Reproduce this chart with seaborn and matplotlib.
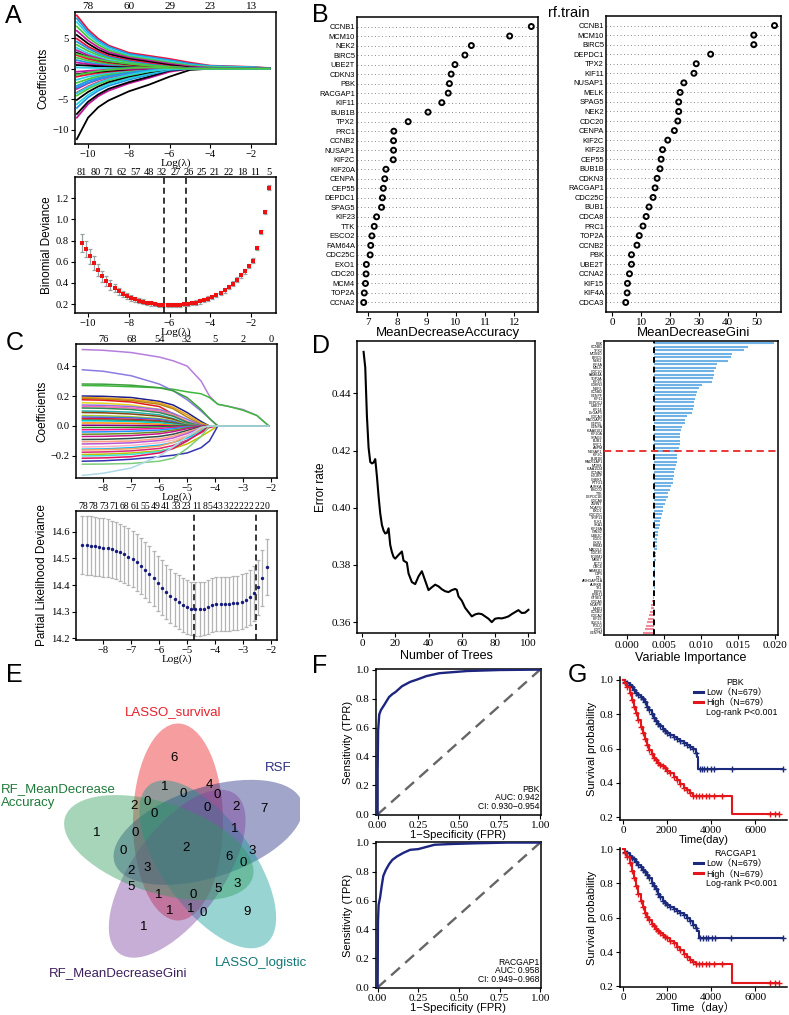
import numpy as np
import pandas as pd
import matplotlib
matplotlib.use("Agg")
import matplotlib.pyplot as plt
import seaborn as sns
from matplotlib.patches import Ellipse
from matplotlib.lines import Line2D

SANS = "Liberation Sans"
SERIF = "Liberation Serif"
plt.rcParams["font.family"] = [SANS, "DejaVu Sans"]

# ======================= DATA =======================
# ---- Panel A (LASSO logistic) coefficient paths ----
a_knots = [-10.55, -10.0, -9.5, -9.0, -8.0, -7.0, -6.0, -5.0, -4.0, -2.0, -1.1]
a_coef = [
    [8.7, 6.4, 4.9, 3.8, 2.6, 2.1, 1.6, 1.0, 0.5, 0.3, 0.1],
    [8.2, 6.0, 4.6, 3.6, 2.4, 1.9, 1.4, 0.8, 0.45, 0.25, 0.08],
    [7.6, 5.6, 4.3, 3.3, 2.2, 1.7, 1.2, 0.6, 0.35, 0.2, 0.05],
    [6.9, 5.1, 3.9, 3.0, 2.0, 1.5, 1.0, 0.5, 0.25, 0.1, 0.02],
    [6.2, 4.6, 3.5, 2.7, 1.8, 1.3, 0.8, 0.35, 0.15, 0.05, 0.0],
    [5.5, 4.1, 3.1, 2.4, 1.6, 1.1, 0.6, 0.2, 0.05, 0.0, 0.0],
    [4.9, 3.6, 2.8, 2.1, 1.4, 0.9, 0.4, 0.1, 0.0, 0.0, 0.0],
    [4.4, 3.3, 2.5, 1.9, 1.2, 0.7, 0.3, 0.05, 0.0, 0.0, 0.0],
    [3.9, 2.9, 2.2, 1.7, 1.0, 0.55, 0.15, 0.0, 0.0, 0.0, 0.0],
    [3.4, 2.5, 1.9, 1.4, 0.85, 0.4, 0.1, 0.0, 0.0, 0.0, 0.0],
    [3.0, 2.2, 1.7, 1.2, 0.7, 0.3, 0.05, 0.0, 0.0, 0.0, 0.0],
    [2.6, 1.9, 1.4, 1.0, 0.55, 0.2, 0.0, 0.0, 0.0, 0.0, 0.0],
    [2.2, 1.6, 1.2, 0.85, 0.45, 0.15, 0.0, 0.0, 0.0, 0.0, 0.0],
    [1.8, 1.3, 1.0, 0.7, 0.35, 0.1, 0.0, 0.0, 0.0, 0.0, 0.0],
    [1.4, 1.0, 0.75, 0.55, 0.25, 0.05, 0.0, 0.0, 0.0, 0.0, 0.0],
    [1.0, 0.75, 0.55, 0.4, 0.2, 0.05, 0.0, 0.0, 0.0, 0.0, 0.0],
    [0.6, 0.5, 0.4, 0.3, 0.2, 0.1, 0.05, 0.0, 0.0, 0.0, 0.0],
    [0.2, 0.15, 0.12, 0.1, 0.05, 0.0, 0.0, 0.0, 0.0, 0.0, 0.0],
    [2.4, 1.9, 1.5, 1.2, 0.8, 0.5, 0.3, 0.1, 0.0, 0.0, 0.0],
    [-11.5, -8.0, -6.3, -5.2, -3.7, -2.6, -1.3, -0.2, 0.0, 0.0, 0.0],
    [-8.0, -5.8, -4.5, -3.6, -2.4, -1.5, -0.5, 0.0, 0.0, 0.0, 0.0],
    [-7.4, -5.4, -4.2, -3.3, -2.2, -1.3, -0.3, 0.0, 0.0, 0.0, 0.0],
    [-6.4, -4.7, -3.6, -2.8, -1.8, -1.0, -0.2, 0.0, 0.0, 0.0, 0.0],
    [-5.8, -4.3, -3.3, -2.5, -1.6, -0.8, -0.1, 0.0, 0.0, 0.0, 0.0],
    [-5.1, -3.8, -2.9, -2.2, -1.3, -0.6, 0.0, 0.0, 0.0, 0.0, 0.0],
    [-4.4, -3.3, -2.5, -1.9, -1.1, -0.45, 0.0, 0.0, 0.0, 0.0, 0.0],
    [-3.9, -2.9, -2.2, -1.6, -0.9, -0.3, 0.0, 0.0, 0.0, 0.0, 0.0],
    [-3.3, -2.4, -1.8, -1.3, -0.7, -0.2, 0.0, 0.0, 0.0, 0.0, 0.0],
    [-2.8, -2.0, -1.5, -1.1, -0.55, -0.15, 0.0, 0.0, 0.0, 0.0, 0.0],
    [-2.3, -1.7, -1.2, -0.9, -0.4, -0.1, 0.0, 0.0, 0.0, 0.0, 0.0],
    [-1.8, -1.3, -1.0, -0.7, -0.3, -0.05, 0.0, 0.0, 0.0, 0.0, 0.0],
    [-1.3, -0.95, -0.7, -0.5, -0.2, 0.0, 0.0, 0.0, 0.0, 0.0, 0.0],
    [-0.9, -0.65, -0.5, -0.35, -0.1, 0.0, 0.0, 0.0, 0.0, 0.0, 0.0],
    [-0.5, -0.35, -0.25, -0.15, -0.05, 0.0, 0.0, 0.0, 0.0, 0.0, 0.0],
    [-3.1, -2.3, -1.7, -1.3, -0.7, -0.25, 0.0, 0.0, 0.0, 0.0, 0.0],
    [-4.0, -3.0, -2.3, -1.7, -1.0, -0.4, -0.05, 0.0, 0.0, 0.0, 0.0],
    [-1.0, -0.7, -0.4, -0.2, 0.1, 0.2, 0.1, 0.0, 0.0, 0.0, 0.0],
]
a_col = ["red", "blue", "cyan", "green", "magenta", "black", "red", "blue", "green", "cyan",
         "magenta", "black", "red", "green", "blue", "magenta", "black", "cyan", "green",
         "black", "magenta", "black", "blue", "cyan", "black", "green", "red", "magenta",
         "blue", "green", "cyan", "red", "black", "magenta", "blue", "cyan", "green"]
a_top_ticks = [-10, -8, -6, -4, -2]
a_top_labels = ["78", "60", "29", "23", "13"]

# ---- Panel A binomial deviance ----
a_dev_x = [-10.3, -10.1, -9.9, -9.7, -9.5, -9.3, -9.1, -8.9, -8.7, -8.5, -8.3, -8.1, -7.9, -7.7,
           -7.5, -7.3, -7.1, -6.9, -6.7, -6.5, -6.3, -6.1, -5.9, -5.7, -5.5, -5.3, -5.1, -4.9,
           -4.7, -4.5, -4.3, -4.1, -3.9, -3.7, -3.5, -3.3, -3.1, -2.9, -2.7, -2.5, -2.3, -2.1,
           -1.9, -1.7, -1.5, -1.3, -1.1]
a_dev_y = [0.78, 0.72, 0.65, 0.59, 0.52, 0.46, 0.42, 0.38, 0.35, 0.32, 0.295, 0.275, 0.257, 0.243,
           0.231, 0.221, 0.212, 0.205, 0.199, 0.195, 0.192, 0.19, 0.19, 0.191, 0.193, 0.196, 0.2,
           0.206, 0.214, 0.224, 0.237, 0.252, 0.268, 0.285, 0.305, 0.33, 0.36, 0.39, 0.43, 0.47,
           0.51, 0.56, 0.61, 0.73, 0.88, 1.07, 1.30]
a_dev_se = [0.085, 0.078, 0.07, 0.064, 0.058, 0.052, 0.047, 0.043, 0.039, 0.035, 0.032, 0.029,
            0.027, 0.025, 0.023, 0.022, 0.021, 0.02, 0.02, 0.019, 0.019, 0.019, 0.019, 0.019,
            0.019, 0.019, 0.019, 0.019, 0.02, 0.02, 0.02, 0.021, 0.021, 0.022, 0.022, 0.022,
            0.022, 0.023, 0.023, 0.023, 0.023, 0.022, 0.022, 0.021, 0.02, 0.02, 0.02]
a_dev_top = ["81", "80", "71", "62", "57", "48", "32", "27", "26", "25", "21", "22", "18", "11", "5"]
a_dev_vlines = [-6.25, -5.2]

# ---- Panel C (LASSO Cox) coefficient paths ----
c_knots = [-8.75, -8.0, -7.0, -6.0, -5.5, -5.0, -4.5, -4.2, -3.9, -3.5, -3.0, -2.5, -2.07]
c_coef = [
    [0.51, 0.505, 0.49, 0.46, 0.435, 0.40, 0.30, 0.20, 0.145, 0.13, 0.11, 0.07, 0.0],
    [0.27, 0.268, 0.262, 0.255, 0.245, 0.228, 0.215, 0.19, 0.145, 0.13, 0.105, 0.07, 0.0],
    [0.375, 0.365, 0.335, 0.28, 0.235, 0.175, 0.10, 0.05, 0.0, 0.0, 0.0, 0.0, 0.0],
    [0.28, 0.279, 0.272, 0.255, 0.235, 0.19, 0.11, 0.05, 0.0, 0.0, 0.0, 0.0, 0.0],
    [0.20, 0.198, 0.19, 0.165, 0.14, 0.09, 0.03, 0.0, 0.0, 0.0, 0.0, 0.0, 0.0],
    [0.19, 0.187, 0.178, 0.155, 0.125, 0.075, 0.02, 0.0, 0.0, 0.0, 0.0, 0.0, 0.0],
    [0.185, 0.18, 0.17, 0.145, 0.115, 0.06, 0.01, 0.0, 0.0, 0.0, 0.0, 0.0, 0.0],
    [0.175, 0.172, 0.16, 0.13, 0.08, 0.02, 0.0, 0.0, 0.0, 0.0, 0.0, 0.0, 0.0],
    [0.155, 0.152, 0.14, 0.11, 0.075, 0.03, 0.0, 0.0, 0.0, 0.0, 0.0, 0.0, 0.0],
    [0.14, 0.138, 0.13, 0.11, 0.085, 0.045, 0.005, 0.0, 0.0, 0.0, 0.0, 0.0, 0.0],
    [0.13, 0.128, 0.12, 0.10, 0.07, 0.03, 0.0, 0.0, 0.0, 0.0, 0.0, 0.0, 0.0],
    [0.12, 0.118, 0.11, 0.09, 0.065, 0.025, 0.0, 0.0, 0.0, 0.0, 0.0, 0.0, 0.0],
    [0.10, 0.098, 0.092, 0.075, 0.05, 0.015, 0.0, 0.0, 0.0, 0.0, 0.0, 0.0, 0.0],
    [0.09, 0.088, 0.08, 0.065, 0.045, 0.01, 0.0, 0.0, 0.0, 0.0, 0.0, 0.0, 0.0],
    [0.07, 0.068, 0.062, 0.05, 0.035, 0.01, 0.0, 0.0, 0.0, 0.0, 0.0, 0.0, 0.0],
    [0.06, 0.058, 0.055, 0.045, 0.03, 0.005, 0.0, 0.0, 0.0, 0.0, 0.0, 0.0, 0.0],
    [0.05, 0.049, 0.045, 0.035, 0.02, 0.0, 0.0, 0.0, 0.0, 0.0, 0.0, 0.0, 0.0],
    [0.04, 0.04, 0.038, 0.03, 0.02, 0.005, 0.0, 0.0, 0.0, 0.0, 0.0, 0.0, 0.0],
    [0.035, 0.034, 0.03, 0.022, 0.012, 0.0, 0.0, 0.0, 0.0, 0.0, 0.0, 0.0, 0.0],
    [0.02, 0.02, 0.018, 0.012, 0.005, 0.0, 0.0, 0.0, 0.0, 0.0, 0.0, 0.0, 0.0],
    [0.005, 0.005, 0.004, 0.002, 0.0, 0.0, 0.0, 0.0, 0.0, 0.0, 0.0, 0.0, 0.0],
    [-0.01, -0.01, -0.009, -0.006, -0.003, 0.0, 0.0, 0.0, 0.0, 0.0, 0.0, 0.0, 0.0],
    [-0.025, -0.025, -0.022, -0.016, -0.01, -0.003, 0.0, 0.0, 0.0, 0.0, 0.0, 0.0, 0.0],
    [-0.04, -0.039, -0.035, -0.027, -0.018, -0.006, 0.0, 0.0, 0.0, 0.0, 0.0, 0.0, 0.0],
    [-0.055, -0.054, -0.05, -0.04, -0.028, -0.012, 0.0, 0.0, 0.0, 0.0, 0.0, 0.0, 0.0],
    [-0.07, -0.069, -0.064, -0.052, -0.038, -0.018, 0.0, 0.0, 0.0, 0.0, 0.0, 0.0, 0.0],
    [-0.09, -0.089, -0.083, -0.07, -0.055, -0.03, -0.005, 0.0, 0.0, 0.0, 0.0, 0.0, 0.0],
    [-0.105, -0.104, -0.10, -0.085, -0.068, -0.04, -0.01, 0.0, 0.0, 0.0, 0.0, 0.0, 0.0],
    [-0.12, -0.118, -0.112, -0.097, -0.08, -0.05, -0.015, 0.0, 0.0, 0.0, 0.0, 0.0, 0.0],
    [-0.14, -0.138, -0.13, -0.112, -0.095, -0.065, -0.025, 0.0, 0.0, 0.0, 0.0, 0.0, 0.0],
    [-0.155, -0.153, -0.145, -0.128, -0.11, -0.08, -0.035, 0.0, 0.0, 0.0, 0.0, 0.0, 0.0],
    [-0.16, -0.158, -0.152, -0.135, -0.11, -0.07, -0.02, 0.0, 0.0, 0.0, 0.0, 0.0, 0.0],
    [-0.175, -0.173, -0.166, -0.15, -0.13, -0.095, -0.045, -0.01, 0.0, 0.0, 0.0, 0.0, 0.0],
    [-0.19, -0.188, -0.18, -0.165, -0.15, -0.12, -0.07, -0.035, 0.0, 0.0, 0.0, 0.0, 0.0],
    [-0.20, -0.198, -0.19, -0.17, -0.145, -0.10, -0.03, 0.0, 0.0, 0.0, 0.0, 0.0, 0.0],
    [-0.215, -0.213, -0.205, -0.18, -0.15, -0.10, -0.04, 0.0, 0.0, 0.0, 0.0, 0.0, 0.0],
    [-0.235, -0.232, -0.222, -0.205, -0.195, -0.18, -0.145, -0.10, 0.0, 0.0, 0.0, 0.0, 0.0],
    [-0.255, -0.254, -0.25, -0.235, -0.215, -0.15, -0.07, 0.0, 0.0, 0.0, 0.0, 0.0, 0.0],
    [-0.33, -0.315, -0.28, -0.20, -0.14, -0.07, -0.01, 0.0, 0.0, 0.0, 0.0, 0.0, 0.0],
]
c_col = ["#B57EDC", "#3DB83D", "#8C7BE0", "#3BA03B", "#1F1F8C", "#E6A020", "#B8860B", "#E31A1C",
         "#E0D820", "#9370DB", "#FF69B4", "#2E8B57", "#20B2AA", "#8B4513", "#9ACD32", "#4169E1",
         "#DC143C", "#556B2F", "#00CED1", "#FF8C00", "#800080", "#228B22", "#FF1493", "#1E90FF",
         "#6B8E23", "#C71585", "#2F4F4F", "#FFA07A", "#BA55D3", "#FFB6C1", "#00BFFF", "#F4A460",
         "#DB2777", "#C0C000", "#40E0D0", "#E0115F", "#3333B3", "#7CCD7C", "#ADD8E6"]
c_top_ticks = [-8, -7, -6, -5, -4, -3, -2]
c_top_labels = ["76", "68", "54", "32", "5", "2", "0"]

# ---- Panel C partial likelihood deviance ----
c_dev_x = [-8.75, -8.6, -8.45, -8.3, -8.15, -8.0, -7.85, -7.7, -7.55, -7.4, -7.25, -7.1, -6.95,
           -6.8, -6.65, -6.5, -6.35, -6.2, -6.05, -5.9, -5.75, -5.6, -5.45, -5.3, -5.15, -5.0,
           -4.85, -4.7, -4.55, -4.4, -4.25, -4.1, -3.95, -3.8, -3.65, -3.5, -3.35, -3.2, -3.05,
           -2.9, -2.75, -2.6, -2.45, -2.3, -2.15]
c_dev_y = [14.550, 14.549, 14.548, 14.546, 14.544, 14.541, 14.538, 14.534, 14.529, 14.523, 14.516,
           14.507, 14.497, 14.485, 14.472, 14.458, 14.442, 14.425, 14.407, 14.390, 14.374, 14.359,
           14.346, 14.335, 14.325, 14.318, 14.312, 14.310, 14.310, 14.312, 14.318, 14.325, 14.328,
           14.328, 14.329, 14.330, 14.332, 14.334, 14.338, 14.344, 14.354, 14.370, 14.392, 14.425,
           14.468]
c_dev_se = [0.110, 0.110, 0.110, 0.110, 0.109, 0.109, 0.109, 0.108, 0.108, 0.108, 0.107, 0.107,
            0.106, 0.106, 0.105, 0.105, 0.104, 0.104, 0.103, 0.103, 0.102, 0.102, 0.101, 0.101,
            0.100, 0.100, 0.100, 0.100, 0.100, 0.100, 0.101, 0.101, 0.101, 0.101, 0.101, 0.102,
            0.102, 0.102, 0.102, 0.102, 0.102, 0.103, 0.104, 0.105, 0.106]
c_dev_top = ["78", "78", "73", "71", "68", "61", "55", "49", "41", "33", "23", "11", "8", "5",
             "4", "3", "3", "2", "2", "2", "2", "2", "2", "2", "0"]
c_dev_vlines = [-4.76, -2.53]

# ---- Panel B random forest importance ----
acc_genes = ["CCNB1", "MCM10", "NEK2", "BIRC5", "UBE2T", "CDKN3", "PBK", "RACGAP1", "KIF11", "BUB1B",
             "TPX2", "PRC1", "CCNB2", "NUSAP1", "KIF2C", "KIF20A", "CENPA", "CEP55", "DEPDC1",
             "SPAG5", "KIF23", "TTK", "ESCO2", "FAM64A", "CDC25C", "EXO1", "CDC20", "MCM4", "TOP2A",
             "CCNA2"]
acc_vals = [12.58, 11.84, 10.53, 10.31, 9.97, 9.84, 9.78, 9.74, 9.52, 9.05, 8.37, 7.88, 7.87,
            7.87, 7.86, 7.61, 7.57, 7.52, 7.49, 7.46, 7.29, 7.21, 7.13, 7.09, 7.07, 6.94, 6.93,
            6.91, 6.87, 6.85]
gini_genes = ["CCNB1", "MCM10", "BIRC5", "DEPDC1", "TPX2", "KIF11", "NUSAP1", "MELK", "SPAG5", "NEK2",
              "CDC20", "CENPA", "KIF2C", "KIF23", "CEP55", "BUB1B", "CDKN3", "RACGAP1", "CDC25C",
              "BUB1", "CDCA8", "PRC1", "TOP2A", "CCNB2", "PBK", "UBE2T", "CCNA2", "KIF15", "KIF4A",
              "CDCA3"]
gini_vals = [56.3, 49.1, 49.1, 34.1, 29.1, 28.3, 24.8, 23.5, 23.0, 23.0, 22.7, 21.5, 19.2, 17.4,
             16.9, 16.5, 15.5, 14.8, 14.1, 12.7, 11.7, 10.6, 9.3, 8.5, 6.6, 6.6, 5.9, 5.2, 5.1, 4.6]

# ---- Panel D error rate ----
rf_trees = [1, 2, 3, 4, 5, 6, 7, 8, 9, 10, 11, 12, 13, 14, 15, 16, 17, 18, 19, 20, 22, 24, 25, 27,
            28, 30, 32, 34, 36, 38, 40, 42, 44, 46, 48, 50, 52, 54, 56, 57, 58, 60, 62, 64, 66, 68,
            70, 72, 74, 76, 78, 79, 80, 82, 84, 86, 88, 90, 92, 94, 96, 98, 100]
rf_err = [0.4545, 0.449, 0.432, 0.421, 0.416, 0.4155, 0.4158, 0.417, 0.411, 0.404, 0.398, 0.394,
          0.392, 0.391, 0.3912, 0.3928, 0.387, 0.3845, 0.3828, 0.3822, 0.3835, 0.3847, 0.3815,
          0.3808, 0.377, 0.374, 0.3733, 0.376, 0.3778, 0.3745, 0.3712, 0.3722, 0.3731, 0.3725,
          0.3715, 0.3708, 0.3705, 0.3712, 0.3716, 0.3713, 0.369, 0.3675, 0.365, 0.3635, 0.362,
          0.3627, 0.363, 0.3628, 0.362, 0.3612, 0.36, 0.3606, 0.3612, 0.3614, 0.3613, 0.3616,
          0.362, 0.3628, 0.3635, 0.3642, 0.3632, 0.3633, 0.3643]

# ---- Panel D variable importance (RSF) ----
vimp_genes = ["PBK", "CCNB1", "TPX2", "MCM10", "BIRC5", "NEK2", "KIF4A", "MELK", "CDC20", "FAM64A",
              "TOP2A", "KIF15", "CDKN3", "NUF2", "CCNB2", "CENPF", "KIF11", "DEPDC1", "UBE2T",
              "KIF14", "DLGAP5", "CDCA3", "RACGAP1", "CEP55", "CENPA", "KIAA0101", "KIF20A",
              "SPAG5", "BUB1", "PRC1", "ASPM", "NUSAP1", "KIF2C", "BUB1B", "RAD51AP1", "MCM4",
              "KIAA1524", "CCNA2", "HJURP", "CHEK1", "PTTG1", "AURKA", "ESCO2", "TTK", "DEPDC1B",
              "CDCA8", "ZWINT", "NCAPG", "EXO1", "CDC25C", "TRIP13", "PLK1", "SKA1", "KIF18A",
              "GINS2", "UBE2C", "CDC6", "CKS2", "RRM2", "MAD2L1", "CDC45", "FOXM1", "MKI67", "ECT2",
              "ORC6", "FAM83D", "OIP5", "DTL", "ARHGAP11A", "AURKB", "TK1", "E2F8", "PRR11",
              "GTSE1", "CDCA5", "NCAPH", "MND1", "CCNE2", "CDCA2", "KIF23", "SGOL1", "POLQ", "CDT1",
              "CENPM"]
vimp_vals = [0.0198, 0.0164, 0.0158, 0.0142, 0.0141, 0.0136, 0.0121, 0.0120, 0.0118, 0.0117,
             0.0116, 0.0115, 0.0101, 0.0097, 0.0094, 0.0093, 0.0092, 0.0091, 0.0090, 0.0089,
             0.0088, 0.0081, 0.0079, 0.0078, 0.0074, 0.0073, 0.0072, 0.0072, 0.0071, 0.0071,
             0.0070, 0.0069, 0.0068, 0.0067, 0.0067, 0.0066, 0.0065, 0.0064, 0.0063, 0.0062,
             0.0062, 0.0060, 0.0058, 0.0056, 0.0055, 0.0053, 0.0051, 0.0049, 0.0049, 0.0047,
             0.0046, 0.0045, 0.0044, 0.0043, 0.0042, 0.0042, 0.0041, 0.0041, 0.0040, 0.0040,
             0.0039, 0.0039, 0.0039, 0.0038, 0.0038, 0.0038, 0.00378, 0.00376, 0.00375, 0.00374,
             0.00373, 0.00372, 0.0036, 0.0035, 0.0034, 0.0033, 0.0032, 0.0031, 0.0030, 0.0028,
             0.0027, 0.0026, 0.0025, 0.0022]
vimp_base = 0.0037
vimp_cut_gene = "NUSAP1"

# ---- Panel E Venn ----
venn_sets = ["LASSO_survival", "RSF", "LASSO_logistic", "RF_MeanDecreaseGini",
             "RF_MeanDecrease\nAccuracy"]
venn_counts = [6, 1, 4, 0, 0, 2, 0, 0, 0, 2, 7, 1, 0, 1, 0, 2, 6, 3, 0, 2, 3, 5, 3, 1, 0, 5, 1, 1,
               0, 9, 1]

# ---- Panel F ROC ----
roc_pbk_fpr = [0.0, 0.0, 0.003, 0.01, 0.02, 0.04, 0.07, 0.09, 0.11, 0.15, 0.2, 0.24, 0.3, 0.38,
               0.55, 0.75, 1.0]
roc_pbk_tpr = [0.0, 0.3, 0.58, 0.69, 0.72, 0.755, 0.81, 0.83, 0.845, 0.885, 0.915, 0.93, 0.955,
               0.975, 0.99, 0.997, 1.0]
roc_pbk_txt = ["PBK", "AUC: 0.942", "CI: 0.930\u22120.954"]
roc_rac_fpr = [0.0, 0.002, 0.006, 0.015, 0.025, 0.035, 0.05, 0.07, 0.09, 0.12, 0.16, 0.2, 0.25,
               0.3, 0.35, 0.45, 0.6, 0.8, 1.0]
roc_rac_tpr = [0.0, 0.45, 0.57, 0.62, 0.70, 0.77, 0.81, 0.85, 0.88, 0.905, 0.93, 0.95, 0.955,
               0.97, 0.985, 0.99, 0.995, 1.0, 1.0]
roc_rac_txt = ["RACGAP1", "AUC: 0.958", "CI: 0.949\u22120.968"]

# ---- Panel G Kaplan-Meier ----
km_t = [0, 100, 200, 300, 400, 500, 600, 700, 800, 900, 1000, 1100, 1200, 1300, 1400, 1500, 1600,
        1700, 1800, 1900, 2000, 2150, 2300, 2450, 2600, 2750, 2900, 3050, 3200, 3300]
pbk_low_s = [1.0, 0.99, 0.98, 0.97, 0.96, 0.94, 0.925, 0.91, 0.90, 0.89, 0.87, 0.845, 0.825, 0.80,
             0.78, 0.76, 0.745, 0.73, 0.715, 0.70, 0.69, 0.678, 0.668, 0.658, 0.645, 0.63, 0.62,
             0.61, 0.595, 0.575]
pbk_low_tail_t = [3380, 3420, 7250]
pbk_low_tail_s = [0.55, 0.483, 0.483]
pbk_low_cens = [3480, 3600, 3700, 3800, 4000, 4150, 4950, 7250]
pbk_high_s = [1.0, 0.985, 0.96, 0.925, 0.885, 0.845, 0.805, 0.765, 0.725, 0.69, 0.655, 0.62, 0.59,
              0.565, 0.545, 0.53, 0.515, 0.505, 0.495, 0.485, 0.47, 0.455, 0.435, 0.415, 0.395,
              0.37, 0.355, 0.34, 0.325, 0.32]
pbk_high_tail_t = [4950, 7100]
pbk_high_tail_s = [0.215, 0.215]
pbk_high_cens = [3450, 3600, 3750, 3900, 4150, 4500, 6700, 6900, 7100]
rac_low_s = [1.0, 0.985, 0.975, 0.96, 0.95, 0.94, 0.925, 0.91, 0.895, 0.88, 0.865, 0.85, 0.83,
             0.805, 0.785, 0.765, 0.74, 0.72, 0.70, 0.685, 0.673, 0.66, 0.65, 0.64, 0.63, 0.615,
             0.60, 0.58, 0.56, 0.54]
rac_low_tail_t = [3380, 3450, 7250]
rac_low_tail_s = [0.52, 0.484, 0.484]
rac_low_cens = [3500, 3620, 3750, 3850, 4050, 4200, 4900, 7250]
rac_high_s = [1.0, 0.98, 0.955, 0.92, 0.875, 0.83, 0.785, 0.74, 0.70, 0.665, 0.63, 0.605, 0.585,
              0.565, 0.55, 0.535, 0.52, 0.51, 0.50, 0.49, 0.482, 0.466, 0.45, 0.43, 0.41, 0.39,
              0.37, 0.355, 0.34, 0.33]
rac_high_tail_t = [4950, 7100]
rac_high_tail_s = [0.22, 0.22]
rac_high_cens = [3450, 3600, 3750, 3900, 4150, 4500, 6700, 6900, 7100]
km_n_text = ["Low\uff08N=679\uff09", "High\uff08N=679\uff09", "Log-rank P<0.001"]

# ======================= LAYOUT / STYLE =======================
W, H = 789, 1015
fig = plt.figure(figsize=(W / 100, H / 100), dpi=100)

R_PAL = {"black": "#000000", "red": "#E8143A", "green": "#4CC83C", "blue": "#2297E6",
         "cyan": "#28D2E5", "magenta": "#C0189C"}


def ax_px(l, t, r, b):
    return fig.add_axes([l / W, 1 - b / H, (r - l) / W, (b - t) / H])


def r_style(ax, box=True, lw=1.1, fs=8):
    for s in ax.spines.values():
        s.set_linewidth(lw)
        s.set_color("black")
    if not box:
        ax.spines["top"].set_visible(False)
        ax.spines["right"].set_visible(False)
    ax.tick_params(direction="out", length=3, width=0.8, labelsize=fs, pad=1.5,
                   labelfontfamily=SERIF)


def top_labels(ax, pos, labels, fs=8, pad=1):
    t = ax.twiny()
    t.set_xlim(ax.get_xlim())
    t.set_xticks(pos)
    t.set_xticklabels(labels)
    t.tick_params(axis="x", length=0, pad=pad, labelsize=fs, labelfontfamily=SERIF)
    for s in t.spines.values():
        s.set_visible(False)
    return t


def letter(x, ybase, s):
    fig.text(x / W, 1 - ybase / H, s, fontsize=18, va="baseline", ha="left", family=SANS)


def paths_df(knots, coefs):
    rows = []
    for i, c in enumerate(coefs):
        for k, v in zip(knots, c):
            rows.append((f"p{i:02d}", k, v))
    return pd.DataFrame(rows, columns=["path", "loglam", "coef"])


def loglam_label(ax):
    ax.set_xlabel("Log(\u03bb)", family=SERIF, fontsize=8, labelpad=-0.8)


# ---------------- Panel A top ----------------
ax = ax_px(75, 12, 276, 144)
dfa = paths_df(a_knots, a_coef)
pal_a = {f"p{i:02d}": R_PAL[c] for i, c in enumerate(a_col)}
sns.lineplot(data=dfa, x="loglam", y="coef", hue="path", palette=pal_a, legend=False,
             estimator=None, sort=False, linewidth=1.3, ax=ax)
ax.set_xlim(-10.64, -0.78)
ax.set_ylim(-12.3, 9.26)
ax.set_xticks([-10, -8, -6, -4, -2])
ax.set_yticks([-10, -5, 0, 5])
r_style(ax, fs=7.6)
loglam_label(ax)
ax.set_ylabel("Coefficients", fontsize=8.5, labelpad=2)
top_labels(ax, a_top_ticks, a_top_labels)

# ---------------- Panel A bottom ----------------
ax = ax_px(75, 177, 276, 313)
ax.errorbar(a_dev_x, a_dev_y, yerr=a_dev_se, fmt="none", ecolor="#9AA0A0", elinewidth=0.9,
            capsize=1.6, capthick=0.9, zorder=1)
sns.scatterplot(x=a_dev_x, y=a_dev_y, marker="s", s=7, color="#EE1111", linewidth=0,
                ax=ax, zorder=3)
for v in a_dev_vlines:
    ax.axvline(v, color="black", ls=(0, (4, 2.5)), lw=1.1)
ax.set_xlim(-10.64, -0.78)
ax.set_ylim(0.115, 1.40)
ax.set_xticks([-10, -8, -6, -4, -2])
ax.set_yticks([0.2, 0.4, 0.6, 0.8, 1.0, 1.2])
ax.set_yticklabels(["0.2", "0.4", "0.6", "0.8", "1.0", "1.2"])
r_style(ax, fs=7.6)
loglam_label(ax)
ax.set_ylabel("Binomial Deviance", fontsize=8.5, labelpad=2)
top_labels(ax, list(np.linspace(-10.3, -1.15, len(a_dev_top))), a_dev_top, fs=7.5, pad=0)

# ---------------- Panel C top ----------------
ax = ax_px(76, 344, 277, 478)
dfc = paths_df(c_knots, c_coef)
pal_c = {f"p{i:02d}": c for i, c in enumerate(c_col)}
sns.lineplot(data=dfc, x="loglam", y="coef", hue="path", palette=pal_c, legend=False,
             estimator=None, sort=False, linewidth=1.1, ax=ax)
ax.set_xlim(-8.98, -1.78)
ax.set_ylim(-0.347, 0.547)
ax.set_xticks([-8, -7, -6, -5, -4, -3, -2])
ax.set_yticks([-0.2, 0.0, 0.2, 0.4])
ax.set_yticklabels(["\u22120.2", "0.0", "0.2", "0.4"])
r_style(ax, fs=7.6)
loglam_label(ax)
ax.set_ylabel("Coefficients", fontsize=8.5, labelpad=2)
top_labels(ax, c_top_ticks, c_top_labels, fs=7.5, pad=0)

# ---------------- Panel C bottom ----------------
ax = ax_px(76, 511, 277, 640)
ax.errorbar(c_dev_x, c_dev_y, yerr=c_dev_se, fmt="none", ecolor="#B4B4B4", elinewidth=0.9,
            capsize=1.6, capthick=0.9, zorder=1)
sns.scatterplot(x=c_dev_x, y=c_dev_y, marker="o", s=6, color="#161A7A", linewidth=0,
                ax=ax, zorder=3)
for v in c_dev_vlines:
    ax.axvline(v, color="black", ls=(0, (4, 2.5)), lw=1.1)
ax.set_xlim(-8.98, -1.78)
ax.set_ylim(14.194, 14.678)
ax.set_xticks([-8, -7, -6, -5, -4, -3, -2])
ax.set_yticks([14.2, 14.3, 14.4, 14.5, 14.6])
ax.set_yticklabels(["14.2", "14.3", "14.4", "14.5", "14.6"])
r_style(ax, fs=7.6)
loglam_label(ax)
ax.set_ylabel("Partial Likelihood Deviance", fontsize=8.5, labelpad=2)
# packed top labels (R drops overlapping ones, so the remaining ones sit end to end)
nchar = sum(len(s) for s in c_dev_top)
cw = (-2.05 - (-8.9)) / nchar
pos, acc = [], -8.9
for s in c_dev_top:
    pos.append(acc + cw * len(s) / 2)
    acc += cw * len(s)
top_labels(ax, pos, c_dev_top, fs=7.0, pad=0)


# ---------------- Panel B ----------------
def dotchart(ax, genes, vals, xmin_zero=False):
    n = len(genes)
    idx = np.arange(n)
    lo = 0.0 if xmin_zero else min(vals)
    hi = max(vals)
    d = hi - lo
    ax.set_xlim(lo - 0.04 * d, hi + 0.04 * d)
    ax.hlines(idx, lo - 0.04 * d, hi + 0.04 * d, colors="#8C8C8C", linestyles=(0, (1, 2.6)),
              lw=0.7, zorder=1)
    sns.scatterplot(x=vals, y=idx, marker="o", s=13, ax=ax, zorder=3)
    coll = ax.collections[-1]
    coll.set_facecolor("none")
    coll.set_edgecolor("black")
    coll.set_linewidth(1.4)
    ax.set_ylim(n, -1)
    ax.set_yticks(idx)
    ax.set_yticklabels(genes)
    r_style(ax)
    ax.tick_params(axis="y", length=0, labelsize=5.4, labelfontfamily=SANS, pad=1.5)


ax = ax_px(357, 17, 538, 312)
dotchart(ax, acc_genes, acc_vals)
ax.set_xticks([7, 8, 9, 10, 11, 12])
ax.set_xlabel("MeanDecreaseAccuracy", fontsize=9.5, labelpad=0)

ax = ax_px(606, 16, 781, 312)
dotchart(ax, gini_genes, gini_vals, xmin_zero=True)
ax.set_xticks([0, 10, 20, 30, 40, 50])
ax.set_xlabel("MeanDecreaseGini", fontsize=9.5, labelpad=0)
fig.text(548 / W, 1 - 17 / H, "rf.train", fontsize=10.5, ha="left", va="baseline")

# ---------------- Panel D left ----------------
ax = ax_px(357, 341, 535, 633)
sns.lineplot(x=rf_trees, y=rf_err, color="black", linewidth=1.5, estimator=None, ax=ax)
ax.set_xlim(-2.96, 103.96)
ax.set_ylim(0.3562, 0.4583)
ax.set_xticks([0, 20, 40, 60, 80, 100])
ax.set_yticks([0.36, 0.38, 0.40, 0.42, 0.44])
ax.set_yticklabels(["0.36", "0.38", "0.40", "0.42", "0.44"])
r_style(ax)
ax.set_xlabel("Number of Trees", fontsize=9, labelpad=1)
ax.set_ylabel("Error rate", fontsize=8.5, labelpad=3)

# ---------------- Panel D right ----------------
ax = ax_px(604, 341, 778, 635)
nv = len(vimp_genes)
yv = np.arange(nv)
cols = ["#6FB2E6" if v >= vimp_base else "#EE8A9A" for v in vimp_vals]
ax.hlines(yv, vimp_base, vimp_vals, colors=cols, lw=1.5)
ax.axvline(vimp_base, color="black", ls=(0, (3, 2)), lw=1.4, zorder=4)
ax.axhline(vimp_genes.index(vimp_cut_gene), color="#E82828", ls=(0, (4, 2.5)), lw=1.3, zorder=4)
ax.set_ylim(nv - 0.4, -0.6)
ax.set_xlim(-0.0031, 0.0204)
ax.set_xticks([0.0, 0.005, 0.010, 0.015, 0.020])
ax.set_xticklabels(["0.000", "0.005", "0.010", "0.015", "0.020"])
ax.set_yticks(yv)
ax.set_yticklabels(vimp_genes)
r_style(ax)
ax.tick_params(axis="y", length=0, labelsize=2.6, labelfontfamily=SANS, pad=1)
ax.set_xlabel("Variable Importance", fontsize=9, labelpad=1)

# ---------------- Panel E (Venn) ----------------
ax = ax_px(0, 650, 300, 1010)
ax.set_xlim(0, 300)
ax.set_ylim(1010, 650)
ax.axis("off")
venn_fill = ["#E8161B", "#1F2A80", "#0A9A94", "#7B3F9E", "#2E9D5C"]
venn_lab_col = ["#E8202A", "#2B2F80", "#137676", "#3D1F5C", "#1E7A3A"]
C0 = np.array([186.0, 848.0])
off0 = np.array([-8.0, -26.0])
for k in range(5):
    th = np.deg2rad(72 * k)
    rot = np.array([[np.cos(th), -np.sin(th)], [np.sin(th), np.cos(th)]])
    cen = C0 + rot @ off0
    ax.add_patch(Ellipse(cen, width=90, height=197, angle=72 * k, facecolor=venn_fill[k],
                         alpha=0.42, edgecolor="none"))
venn_xy = [(174, 758), (165, 787), (209, 785), (183, 794), (217, 795), (134, 806), (147, 802),
           (154, 814), (207, 808), (236, 807), (264, 809), (97, 833), (135, 833), (235, 829),
           (123, 851), (186, 848), (229, 857), (252, 851), (243, 863), (131, 871), (147, 868),
           (131, 887), (237, 884), (159, 895), (193, 895), (218, 889), (170, 911), (191, 909),
           (203, 913), (247, 912), (144, 927)]
for (x, y), n in zip(venn_xy, venn_counts):
    ax.text(x, y, str(n), fontsize=9.5, ha="center", va="center", color="black")
venn_lab_xy = [(173, 712, "center"), (278, 768, "center"), (215, 963, "left"),
               (118, 973, "center"), (1, 796, "left")]
for k, (x, y, ha) in enumerate(venn_lab_xy):
    ax.text(x, y, venn_sets[k], fontsize=9.5, ha=ha, va="center", color=venn_lab_col[k],
            linespacing=1.3)


# ---------------- Panel F (ROC) ----------------
def roc_panel(rect, fpr, tpr, txt):
    ax = ax_px(*rect)
    sns.lineplot(x=fpr, y=tpr, color="#1C2580", linewidth=1.7, estimator=None, sort=False,
                 ax=ax, zorder=3)
    ax.axline((0, 0), slope=1, color="#666666", ls=(0, (5, 3)), lw=1.7, zorder=2)
    ax.set_xlim(-0.01, 1.005)
    ax.set_ylim(-0.004, 1.004)
    ax.set_xticks([0, 0.25, 0.5, 0.75, 1.0])
    ax.set_xticklabels(["0.00", "0.25", "0.50", "0.75", "1.00"])
    ax.set_yticks([0, 0.2, 0.4, 0.6, 0.8, 1.0])
    ax.set_yticklabels(["0.0", "0.2", "0.4", "0.6", "0.8", "1.0"])
    r_style(ax)
    ax.set_xlabel("1\u2212Specificity (FPR)", fontsize=8, labelpad=-0.5)
    ax.set_ylabel("Sensitivity (TPR)", fontsize=8, labelpad=2)
    for yy, s in zip([0.175, 0.118, 0.061], txt):
        ax.text(0.99, yy, s, transform=ax.transAxes, ha="right", va="center", fontsize=6.2)
    return ax


roc_panel((376, 669, 541, 815), roc_pbk_fpr, roc_pbk_tpr, roc_pbk_txt)
roc_panel((376, 842, 541, 988), roc_rac_fpr, roc_rac_tpr, roc_rac_txt)


# ---------------- Panel G (KM) ----------------
def step_value(t_arr, s_arr, t):
    i = np.searchsorted(t_arr, t, side="right") - 1
    return s_arr[i]


def km_panel(rect, ylim, title, low_s, low_tt, low_ts, low_c, high_s, high_tt, high_ts, high_c,
             xlabel):
    ax = ax_px(*rect)
    for s_main, tt, ts, cens, col in [(low_s, low_tt, low_ts, low_c, "#1C2A7C"),
                                       (high_s, high_tt, high_ts, high_c, "#E3171B")]:
        t_all = np.array(km_t + tt, dtype=float)
        s_all = np.array(s_main + ts, dtype=float)
        sns.lineplot(x=t_all, y=s_all, color=col, linewidth=1.5, estimator=None, sort=False,
                     drawstyle="steps-post", ax=ax)
        ct = list(km_t[1:]) + list(cens)
        cs = [step_value(t_all, s_all, t) for t in ct]
        sns.scatterplot(x=ct, y=cs, marker="+", s=22, color=col, linewidth=1.0, ax=ax)
    ax.set_xlim(-136, 7450)
    ax.set_ylim(*ylim)
    ax.set_xticks([0, 2000, 4000, 6000])
    ax.set_yticks([0.2, 0.4, 0.6, 0.8, 1.0])
    ax.set_yticklabels(["0.2", "0.4", "0.6", "0.8", "1.0"])
    r_style(ax, box=False)
    ax.set_xlabel(xlabel, fontsize=8, labelpad=-0.5, family=[SANS, "Noto Sans CJK SC"])
    ax.set_ylabel("Survival probability", fontsize=8, labelpad=2)
    handles = [Line2D([], [], color="#1C2A7C", lw=2.2), Line2D([], [], color="#E3171B", lw=2.2),
               Line2D([], [], color="none")]
    ax.legend(handles, km_n_text, title=title, loc="upper right",
              bbox_to_anchor=(0.975, 1.03), frameon=False, handlelength=1.1,
              handletextpad=0.3, labelspacing=0.1, borderpad=0.1,
              prop={"family": [SANS, "Noto Sans CJK SC"], "size": 6.4},
              title_fontproperties={"family": SANS, "size": 6.4})
    return ax


km_panel((620, 677, 787, 820), (0.1825, 1.0175), "PBK", pbk_low_s, pbk_low_tail_t,
         pbk_low_tail_s, pbk_low_cens, pbk_high_s, pbk_high_tail_t, pbk_high_tail_s,
         pbk_high_cens, "Time(day)")
km_panel((620, 848, 787, 987), (0.196, 1.007), "RACGAP1", rac_low_s, rac_low_tail_t,
         rac_low_tail_s, rac_low_cens, rac_high_s, rac_high_tail_t, rac_high_tail_s,
         rac_high_cens, "Time\uff08day\uff09")

# ---------------- panel letters ----------------
letter(5, 23, "A")
letter(312, 22, "B")
letter(6, 350, "C")
letter(312, 353, "D")
letter(6, 682, "E")
letter(312, 673, "F")
letter(568, 682, "G")

fig.savefig("out.png", dpi=100)
